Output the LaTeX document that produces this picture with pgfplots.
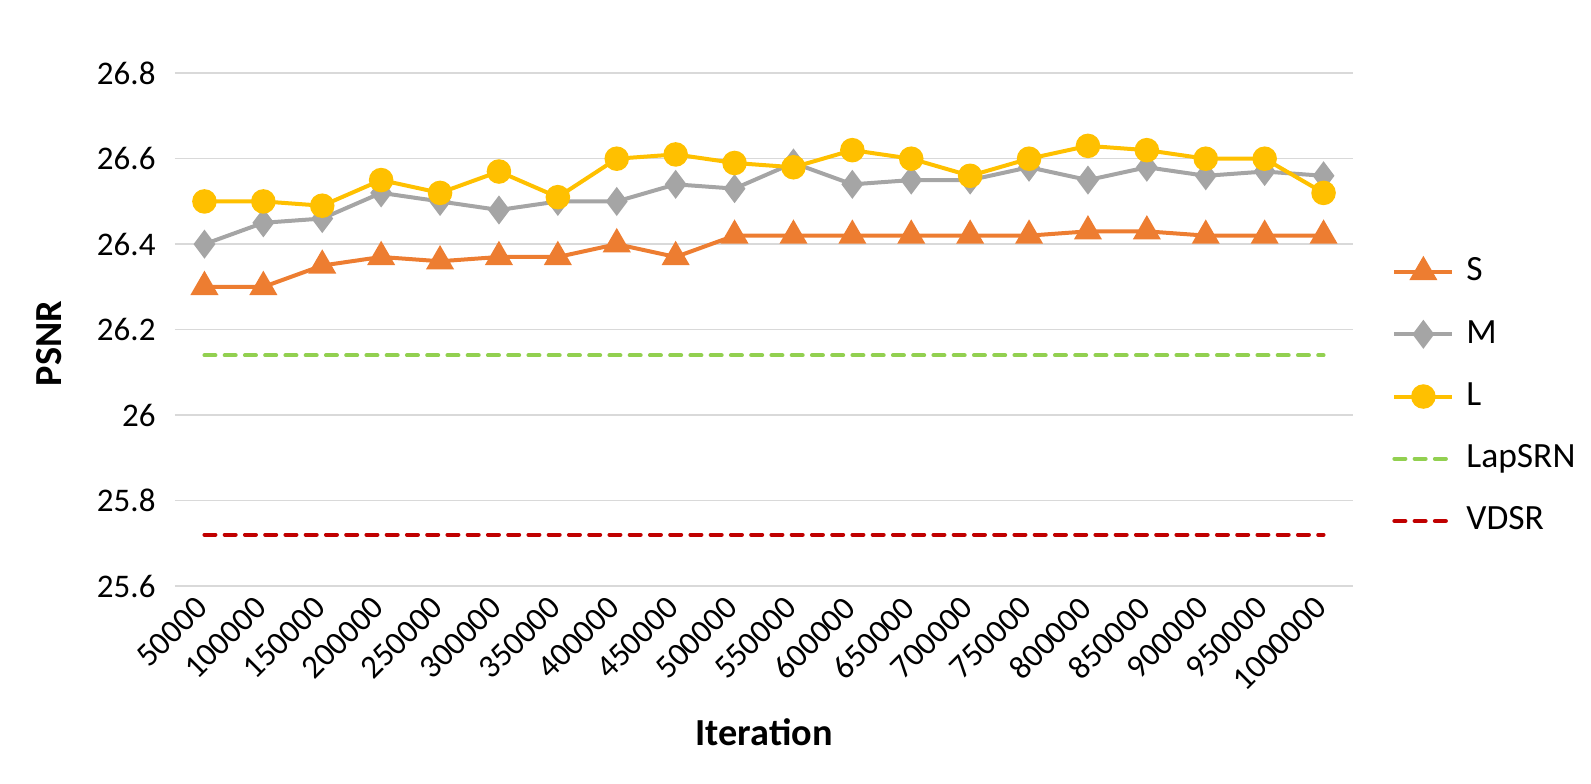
\documentclass[border=0pt]{standalone}
\usepackage{pgfplots}
\pgfplotsset{compat=1.18}
\usepackage{fontspec}
\setmainfont{Carlito}
\definecolor{cS}{HTML}{ED7D31}
\definecolor{cM}{HTML}{A5A5A5}
\definecolor{cL}{HTML}{FFC000}
\definecolor{cLap}{HTML}{92D050}
\definecolor{cV}{HTML}{C00000}
\definecolor{gridc}{HTML}{D9D9D9}
\begin{document}%
\begin{tikzpicture}[font=\fontsize{13.2pt}{15pt}\selectfont]%
\begin{axis}[
  scale only axis,
  width=471.2pt, height=205.1pt,
  xmin=-0.5, xmax=19.5,
  ymin=25.6, ymax=26.8,
  ytick={25.6,25.8,26,26.2,26.4,26.6,26.8},
  xtick={0,...,19},
  xticklabels={50000,100000,150000,200000,250000,300000,350000,400000,450000,500000,550000,600000,650000,700000,750000,800000,850000,900000,950000,1000000},
  xticklabel style={xshift=-4.2pt, yshift=-3.2pt, rotate=45, anchor=north east, inner sep=0pt},
  yticklabel style={inner sep=0pt, xshift=-7.6pt},
  /pgf/number format/assume math mode=true,
  ymajorgrids, grid style={gridc, line width=0.6pt},
  axis line style={draw=none},
  major tick length=0pt,
  tick label style={font=\fontsize{13.2pt}{15pt}\selectfont},
  xlabel={\textbf{Iteration}}, ylabel={\textbf{PSNR}},
  label style={font=\fontsize{15.3pt}{17pt}\selectfont},
  xlabel style={at={(axis description cs:0.5,0)}, anchor=center, yshift=-58.6pt},
  ylabel style={at={(axis description cs:0,0.5)}, anchor=center, yshift=50.5pt, xshift=-5.6pt},
  legend style={draw=none, fill=none, at={(1.033,0.645)}, anchor=north west, inner sep=0pt,
    font=\fontsize{14.2pt}{16pt}\selectfont, row sep=11.9pt,
    nodes={inner sep=0pt, text height=10pt, text depth=3pt},
    cells={anchor=west},
    /tikz/every odd column/.append style={column sep=4.8pt}},
  legend cell align=left,
  legend image code/.code={\draw[mark repeat=2,mark phase=2,#1] plot coordinates {(0pt,0pt)(11.6pt,0pt)(23.2pt,0pt)};},
  clip=false,
]
\addplot[cS, line width=1.6pt, mark=triangle*, mark size=4.9pt, mark options={solid}] coordinates {
(0,26.30)(1,26.30)(2,26.35)(3,26.37)(4,26.36)(5,26.37)(6,26.37)(7,26.40)(8,26.37)(9,26.42)(10,26.42)(11,26.42)(12,26.42)(13,26.42)(14,26.42)(15,26.43)(16,26.43)(17,26.42)(18,26.42)(19,26.42)};
\addlegendentry{S}
\addplot[cM, line width=1.6pt, mark=diamond*, mark size=4.5pt] coordinates {
(0,26.40)(1,26.45)(2,26.46)(3,26.52)(4,26.50)(5,26.48)(6,26.50)(7,26.50)(8,26.54)(9,26.53)(10,26.59)(11,26.54)(12,26.55)(13,26.55)(14,26.58)(15,26.55)(16,26.58)(17,26.56)(18,26.57)(19,26.56)};
\addlegendentry{M}
\addplot[cL, line width=1.6pt, mark=*, mark size=4.1pt] coordinates {
(0,26.50)(1,26.50)(2,26.49)(3,26.55)(4,26.52)(5,26.57)(6,26.51)(7,26.60)(8,26.61)(9,26.59)(10,26.58)(11,26.62)(12,26.60)(13,26.56)(14,26.60)(15,26.63)(16,26.62)(17,26.60)(18,26.60)(19,26.52)};
\addlegendentry{L}
\addplot[cLap, line width=1.6pt, line cap=round, dash pattern=on 4.4pt off 3.7pt] coordinates {
(0,26.14)(1,26.14)(2,26.14)(3,26.14)(4,26.14)(5,26.14)(6,26.14)(7,26.14)(8,26.14)(9,26.14)(10,26.14)(11,26.14)(12,26.14)(13,26.14)(14,26.14)(15,26.14)(16,26.14)(17,26.14)(18,26.14)(19,26.14)};
\addlegendentry{LapSRN}
\addplot[cV, line width=1.6pt, line cap=round, dash pattern=on 4.4pt off 3.7pt] coordinates {
(0,25.72)(1,25.72)(2,25.72)(3,25.72)(4,25.72)(5,25.72)(6,25.72)(7,25.72)(8,25.72)(9,25.72)(10,25.72)(11,25.72)(12,25.72)(13,25.72)(14,25.72)(15,25.72)(16,25.72)(17,25.72)(18,25.72)(19,25.72)};
\addlegendentry{VDSR}
\end{axis}
\pgfresetboundingbox
\useasboundingbox (-70.0pt,-78.8pt) rectangle (566.4pt,234.4pt);
\end{tikzpicture}%
\end{document}
